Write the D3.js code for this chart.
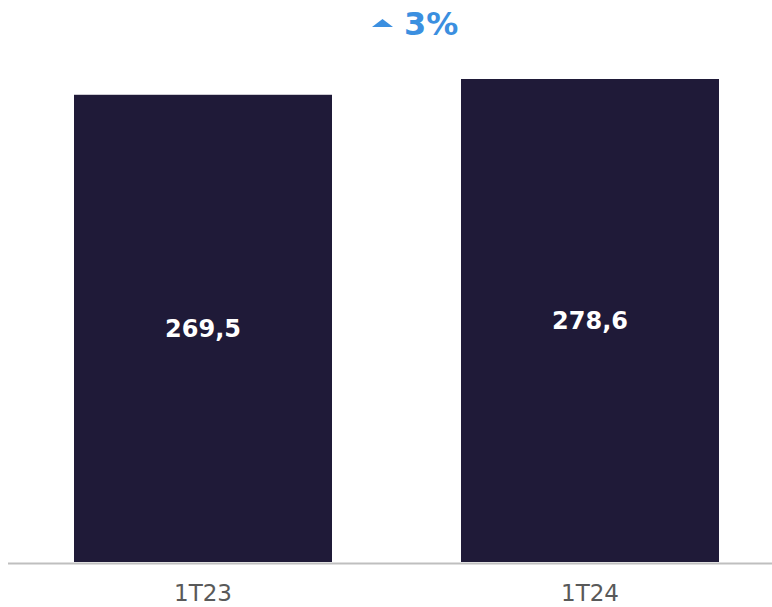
<!DOCTYPE html>
<html lang="pt">
<head>
<meta charset="UTF-8">
<title>1T23 vs 1T24</title>
<script src="https://d3js.org/d3.v7.min.js"></script>
<style>
  body { margin: 0; background: #fff; font-family: 'DejaVu Sans', Verdana, sans-serif; }
</style>
</head>
<body>
<svg width="772" height="607"></svg>
<script>
var periods = ["1T23", "1T24"];
var values = [269.5, 278.6];
var labels = ["269,5", "278,6"];
var growth = "3%";

var svg = d3.select("svg");
var baseY = 562;

// bars sit at 74-332 and 461-719
var x = d3.scaleBand()
    .domain(periods)
    .range([74, 719])
    .paddingInner(1 / 3)
    .paddingOuter(0);

var y = d3.scaleLinear()
    .domain([0, 278.6])
    .range([baseY, 79]);

svg.selectAll("rect.bar")
    .data(values)
    .enter().append("rect")
    .attr("class", "bar")
    .attr("x", function(d, i) { return x(periods[i]); })
    .attr("width", x.bandwidth())
    .attr("y", function(d) { return y(d); })
    .attr("height", function(d) { return baseY - y(d); })
    .attr("fill", "#1f1a38");

svg.selectAll("text.val")
    .data(values)
    .enter().append("text")
    .attr("class", "val")
    .attr("x", function(d, i) { return x(periods[i]) + x.bandwidth() / 2; })
    .attr("y", function(d) { return (y(d) + baseY) / 2 + 8.5; })
    .attr("text-anchor", "middle")
    .attr("fill", "#fff")
    .attr("font-weight", "bold")
    .attr("font-size", "24px")
    .text(function(d, i) { return labels[i]; });

// baseline
svg.append("line")
    .attr("x1", 8).attr("x2", 772)
    .attr("y1", baseY + 1.5).attr("y2", baseY + 1.5)
    .attr("stroke", "#bfbfbf")
    .attr("stroke-width", 2);

svg.selectAll("text.tick")
    .data(periods)
    .enter().append("text")
    .attr("class", "tick")
    .attr("x", function(d) { return x(d) + x.bandwidth() / 2; })
    .attr("y", 601)
    .attr("text-anchor", "middle")
    .attr("fill", "#595959")
    .attr("font-size", "23px")
    .text(function(d) { return d; });

// growth annotation
svg.append("path")
    .attr("d", "M372,27 L382.5,19 L393,27 Z")
    .attr("fill", "#3b8fe0");
svg.append("text")
    .attr("x", 404)
    .attr("y", 35)
    .attr("fill", "#3b8fe0")
    .attr("font-weight", "bold")
    .attr("font-size", "32px")
    .text(growth);
</script>
</body>
</html>
